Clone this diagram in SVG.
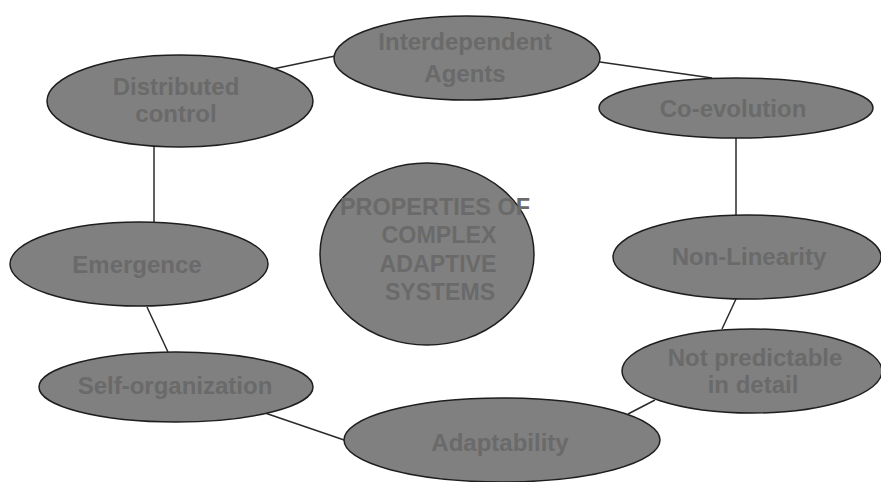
<svg xmlns="http://www.w3.org/2000/svg" width="881" height="482" viewBox="0 0 881 482">
<style>
.n ellipse{fill:#808080;stroke:#1e1e1e;stroke-width:1.5}
.n text{font-family:"Liberation Sans",Arial,sans-serif;font-weight:bold;font-size:24px;fill:#6a6a6a;text-anchor:middle}
#center text{font-size:24px}
.c line{stroke:#2a2a2a;stroke-width:1.5}
</style>
<rect width="881" height="482" fill="#ffffff"/>
<g class="c" id="connectors">
<line x1="268" y1="70" x2="335" y2="56"/>
<line x1="600" y1="62" x2="712" y2="78"/>
<line x1="736" y1="138" x2="736" y2="215"/>
<line x1="736" y1="299" x2="722" y2="329"/>
<line x1="655" y1="400" x2="628" y2="414"/>
<line x1="350" y1="442" x2="265" y2="413"/>
<line x1="168" y1="352" x2="147" y2="307"/>
<line x1="154" y1="147" x2="154" y2="222"/>
</g>
<g class="n" id="distributed">
<ellipse cx="180" cy="101" rx="133" ry="46"/>
<text x="176" y="95">Distributed</text>
<text x="176" y="122">control</text>
</g>
<g class="n" id="interdependent">
<ellipse cx="467" cy="58" rx="133" ry="42"/>
<text x="465" y="50">Interdependent</text>
<text x="465" y="82">Agents</text>
</g>
<g class="n" id="coevolution">
<ellipse cx="736" cy="108" rx="137" ry="30"/>
<text x="733" y="117">Co-evolution</text>
</g>
<g class="n" id="nonlinearity">
<ellipse cx="747" cy="257" rx="134" ry="42"/>
<text x="749" y="265">Non-Linearity</text>
</g>
<g class="n" id="notpredictable">
<ellipse cx="752" cy="371" rx="130" ry="42"/>
<text x="755" y="366">Not predictable</text>
<text x="753" y="393">in detail</text>
</g>
<g class="n" id="adaptability">
<ellipse cx="502" cy="440" rx="158" ry="42"/>
<text x="500" y="451">Adaptability</text>
</g>
<g class="n" id="selforg">
<ellipse cx="176" cy="387" rx="137" ry="35"/>
<text x="175" y="394">Self-organization</text>
</g>
<g class="n" id="emergence">
<ellipse cx="139" cy="264" rx="129" ry="42"/>
<text x="137" y="273">Emergence</text>
</g>
<g class="n" id="center">
<ellipse cx="427" cy="254" rx="107" ry="91"/>
<text x="435" y="215" textLength="190" lengthAdjust="spacingAndGlyphs">PROPERTIES OF</text>
<text x="439" y="243" textLength="115" lengthAdjust="spacingAndGlyphs">COMPLEX</text>
<text x="438" y="272" textLength="117" lengthAdjust="spacingAndGlyphs">ADAPTIVE</text>
<text x="440" y="300" textLength="110" lengthAdjust="spacingAndGlyphs">SYSTEMS</text>
</g>
</svg>
